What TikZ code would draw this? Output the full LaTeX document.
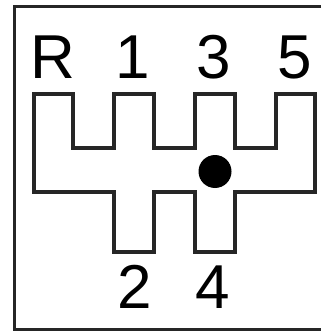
\documentclass[tikz,border=0pt]{standalone}
\usepackage{fontspec}
\setmainfont{Liberation Sans}
\tikzset{gatelabel/.style={font=\fontsize{62}{62}\selectfont, text=black, inner sep=0pt, anchor=base},
 gate/.style={draw=black!85, line width=3.6pt, line join=miter},
 knob/.style={circle, fill=black, inner sep=0pt, minimum size=33pt}}
\begin{document}
\begin{tikzpicture}[x=1pt,y=-1pt]
\useasboundingbox (0,0) rectangle (321,331);
\fill[white] (0,0) rectangle (321,331);
\draw[black!85,line width=3pt] (321,7) -- (14,7) -- (14,329) -- (321,329);
\draw[gate] (34,94) -- (73,94) -- (73,148) -- (114,148) -- (114,94) -- (154,94) -- (154,148) -- (195,148) -- (195,94) -- (235,94) -- (235,148) -- (276,148) -- (276,94) -- (315,94) -- (315,192) -- (235,192) -- (235,252) -- (195,252) -- (195,192) -- (154,192) -- (154,252) -- (114,252) -- (114,192) -- (34,192) -- cycle;
\node[knob] (k) at (215,171.5) {};
\node[gatelabel] (r) at (53,79) {R};
\node[gatelabel] (a) at (133,79) {1};
\node[gatelabel] (c) at (214,79) {3};
\node[gatelabel] (e) at (295,79) {5};
\node[gatelabel] (b) at (135,308) {2};
\node[gatelabel] (d) at (213,308) {4};
\end{tikzpicture}
\end{document}
